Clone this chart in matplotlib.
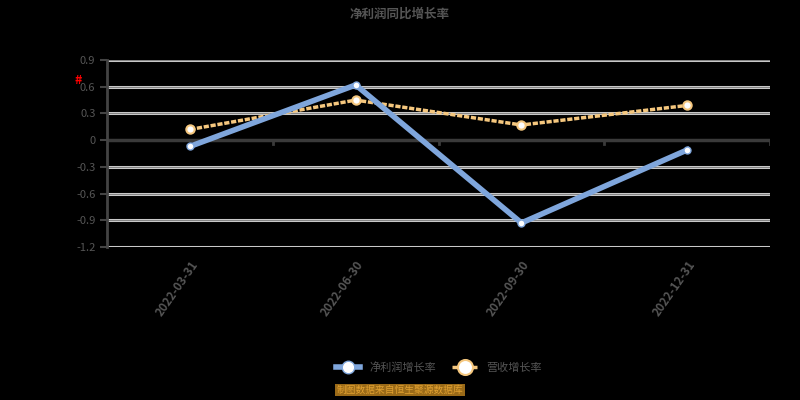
import matplotlib.pyplot as plt
import numpy as np

plt.rcParams['font.family'] = ['Noto Sans CJK SC', 'DejaVu Sans']

dates = ["2022-03-31", "2022-06-30", "2022-09-30", "2022-12-31"]
net_profit_growth = [-0.07, 0.62, -0.93, -0.11]
revenue_growth = [0.12, 0.45, 0.17, 0.39]
yticks = [0.9, 0.6, 0.3, 0, -0.3, -0.6, -0.9, -1.2]
ytick_labels = ["0.9", "0.6", "0.3", "0", "-0.3", "-0.6", "-0.9", "-1.2"]

fig = plt.figure(figsize=(8, 4), dpi=100, facecolor="black")
ax = fig.add_axes([0.134, 0.3825, 0.8285, 0.4675], facecolor="black")

x = np.arange(len(dates))
for y in yticks:
    if y == 0:
        continue
    ax.axhline(y, color="#c8c8c8", lw=2.2, zorder=1)
    ax.axhline(y, color="#777777", lw=0.6, zorder=1)
ax.axhline(0, color="#3a3a3a", lw=2.5, zorder=1)
for b in np.arange(0.5, len(dates), 1.0):
    ax.plot([b, b], [0, -0.04], color="#3a3a3a", lw=2, zorder=1)

ax.plot(x, net_profit_growth, color="#7fa6dc", lw=4, marker="o", ms=5,
        mfc="white", mec="#7fa6dc", mew=1, zorder=3, label="净利润增长率")
ax.plot(x, revenue_growth, color="#f5c77e", lw=2.5, ls=(0, (1.5, 0.5)), marker="o", ms=6,
        mfc="white", mec="#f5c77e", mew=1.5, zorder=2, label="营收增长率")

ax.set_xlim(-0.5, len(dates) - 0.5)
ax.set_ylim(-1.2, 0.9)
ax.set_yticks(yticks)
ax.set_yticklabels(ytick_labels, color="#555555", fontsize=8)
ax.set_xticks(x)
ax.set_xticklabels(dates, rotation=55, ha="right", rotation_mode="anchor",
                   color="#555555", fontsize=8.5, fontweight="bold")
ax.tick_params(axis="x", length=0, pad=8)
ax.tick_params(axis="y", length=5, color="#444444", width=1.5)
for s in ["top", "right", "bottom"]:
    ax.spines[s].set_visible(False)
ax.spines["left"].set_color("#444444")
ax.spines["left"].set_linewidth(2)

fig.text(0.5, 0.965, "净利润同比增长率", ha="center", va="center",
         color="#555555", fontsize=9, fontweight="bold")
fig.text(0.098, 0.8, "#", ha="center", va="center", color="red",
         fontsize=9, fontweight="bold")

leg = ax.legend(loc="center", bbox_to_anchor=(0.5, -0.647), ncol=2, frameon=False,
                fontsize=8, handlelength=2.2, columnspacing=1.5, markerscale=1.8)
for t in leg.get_texts():
    t.set_color("#555555")

fig.text(0.5, 0.025, "制图数据来自恒生聚源数据库", ha="center", va="center",
         color="#e0a030", fontsize=7,
         bbox=dict(boxstyle="square,pad=0.15", fc="#9a6a18", ec="none"))

fig.savefig("out.png", dpi=100, facecolor="black")
